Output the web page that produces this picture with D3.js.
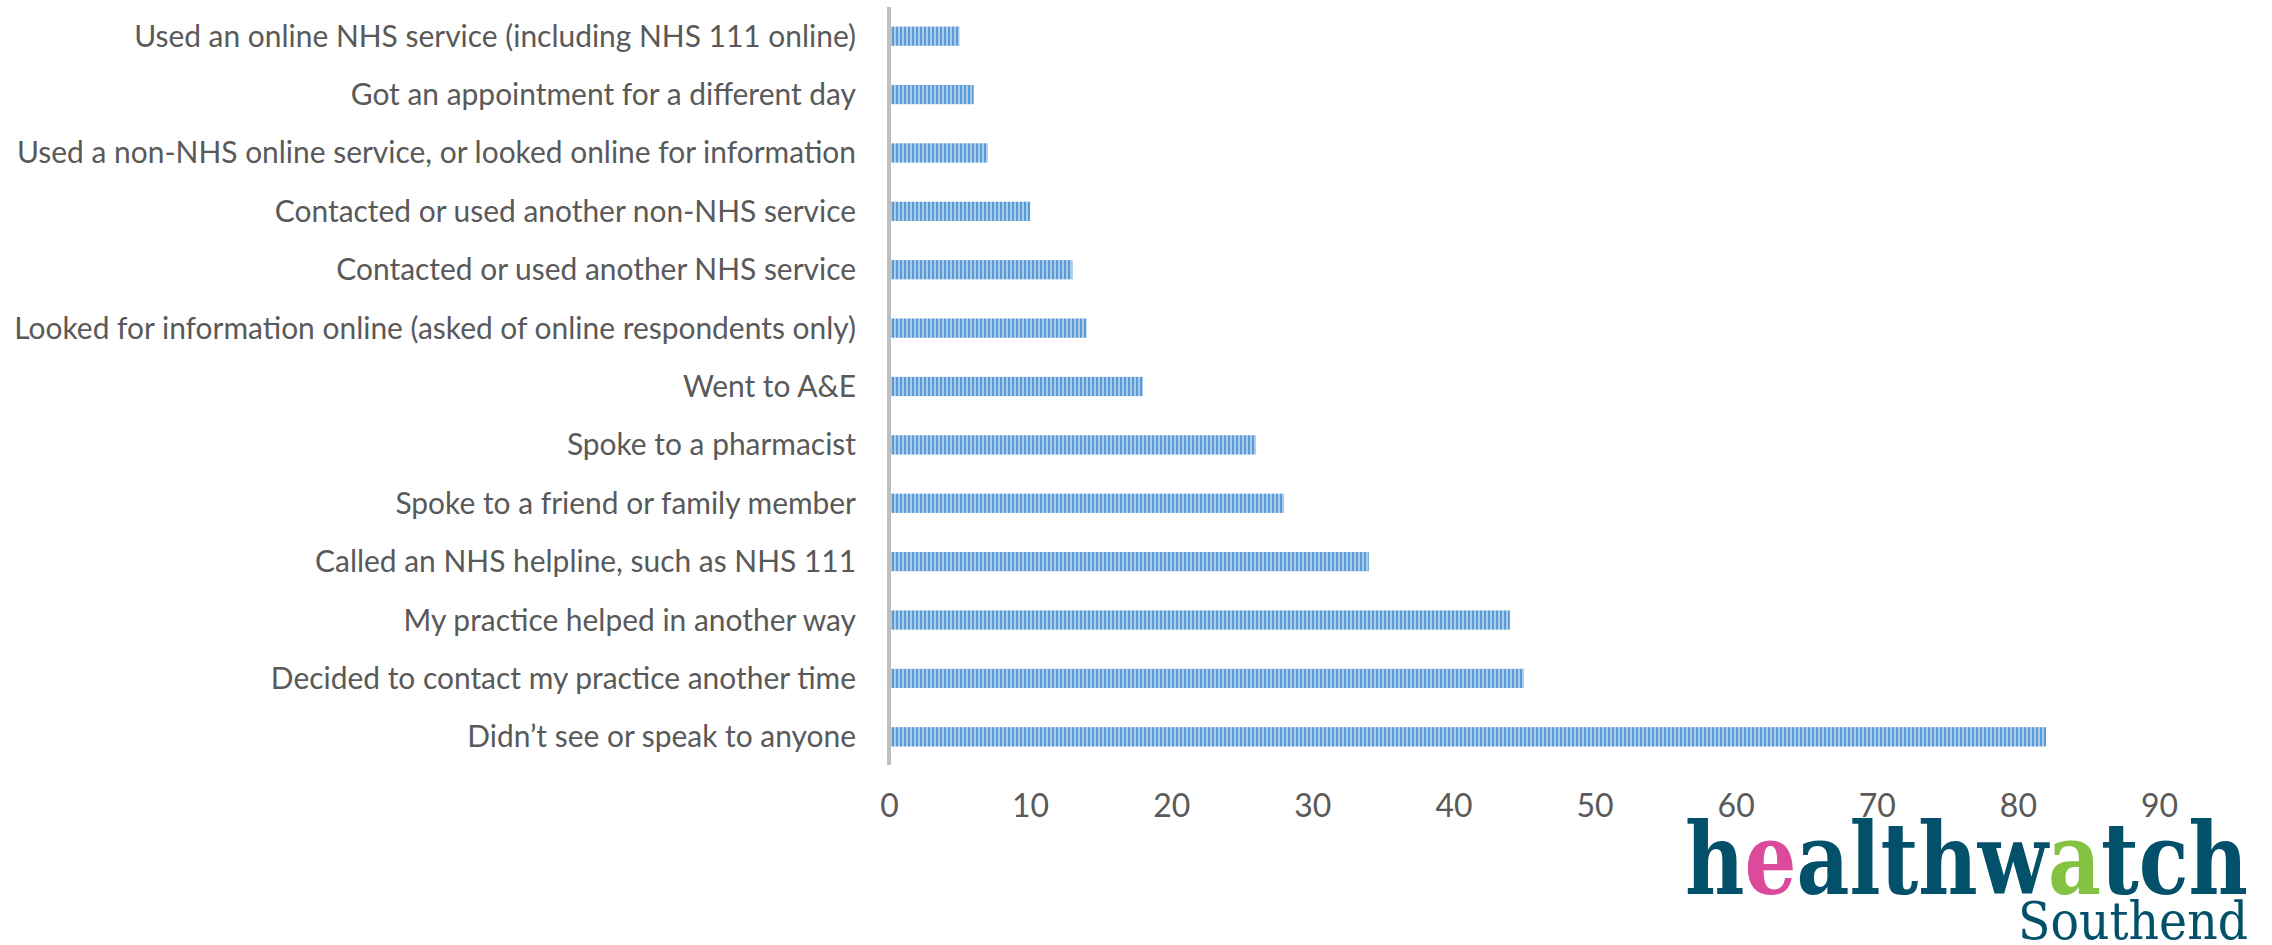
<!DOCTYPE html>
<html>
<head>
<meta charset="utf-8">
<script src="https://cdn.jsdelivr.net/npm/d3@7/dist/d3.min.js"></script>
<style>
  html, body { margin: 0; padding: 0; background: #ffffff; }
  svg { display: block; }
</style>
</head>
<body>
<svg id="chart" width="2272" height="945"></svg>
<script>
// Responses, top to bottom
const categories = [
  "Used an online NHS service (including NHS 111 online)",
  "Got an appointment for a different day",
  "Used a non-NHS online service, or looked online for information",
  "Contacted or used another non-NHS service",
  "Contacted or used another NHS service",
  "Looked for information online (asked of online respondents only)",
  "Went to A&E",
  "Spoke to a pharmacist",
  "Spoke to a friend or family member",
  "Called an NHS helpline, such as NHS 111",
  "My practice helped in another way",
  "Decided to contact my practice another time",
  "Didn\u2019t see or speak to anyone"
];
const counts = [5, 6, 7, 10, 13, 14, 18, 26, 28, 34, 44, 45, 82];
const xTicks = [0, 10, 20, 30, 40, 50, 60, 70, 80, 90];

const svg = d3.select("#chart");
const labelFont = "Lato, 'Open Sans', sans-serif";
const textColor = "#595959";

// Striped bar fill
const defs = svg.append("defs");
const pat = defs.append("pattern")
  .attr("id", "stripes")
  .attr("patternUnits", "userSpaceOnUse")
  .attr("width", 4).attr("height", 8);
pat.append("rect").attr("width", 4).attr("height", 8).attr("fill", "#5B9BD5");
pat.append("rect").attr("x", 2).attr("width", 2).attr("height", 8).attr("fill", "#A9CCEC");

const x = d3.scaleLinear().domain([0, 90]).range([889, 2159]);
const y = d3.scaleBand().domain(categories).range([7, 766]).paddingInner(0.67).paddingOuter(0.335);

// Bars
svg.append("g").selectAll("rect")
  .data(categories)
  .join("rect")
  .attr("x", x(0) + 2)
  .attr("y", d => y(d))
  .attr("width", (d, i) => x(counts[i]) - x(0) - 2)
  .attr("height", y.bandwidth())
  .attr("fill", "url(#stripes)");

// Category axis line
svg.append("rect")
  .attr("x", x(0) - 2).attr("y", 7)
  .attr("width", 4).attr("height", 758)
  .attr("fill", "#BFBFBF");

// Category labels
const labels = svg.append("g").selectAll("text")
  .data(categories)
  .join("text")
  .attr("x", 856)
  .attr("y", d => y(d) + y.bandwidth() / 2)
  .attr("dy", "0.35em")
  .attr("text-anchor", "end")
  .attr("font-family", labelFont)
  .attr("font-size", 30)
  .attr("fill", textColor)
  .text(d => d);

// Fit the longest label into the space left of the axis
let maxW = 0;
labels.each(function () { maxW = Math.max(maxW, this.getComputedTextLength()); });
const fs = 30 * 842 / maxW;
labels.attr("font-size", fs);

// Value axis
const xAxis = d3.axisBottom(x).tickValues(xTicks).tickSize(0).tickPadding(0);
const gx = svg.append("g").attr("transform", "translate(0,806)").call(xAxis);
gx.select(".domain").remove();
gx.selectAll("text")
  .attr("dy", "0.35em")
  .attr("font-family", labelFont)
  .attr("font-size", 32)
  .attr("fill", textColor);

// Healthwatch Southend wordmark
const logo = svg.append("g");
const hw = logo.append("text")
  .attr("x", 1685).attr("y", 894)
  .attr("font-family", "'DejaVu Serif', serif")
  .attr("font-weight", "bold")
  .attr("font-size", 100)
  .attr("fill", "#03506B")
  .attr("textLength", 563)
  .attr("lengthAdjust", "spacingAndGlyphs");
hw.append("tspan").text("h");
hw.append("tspan").attr("fill", "#DC4A9B").text("e");
hw.append("tspan").text("althw");
hw.append("tspan").attr("fill", "#84C341").text("a");
hw.append("tspan").text("tch");

logo.append("text")
  .attr("x", 2018).attr("y", 939)
  .attr("font-family", "'DejaVu Serif', serif")
  .attr("font-size", 52)
  .attr("fill", "#03506B")
  .attr("textLength", 230)
  .attr("lengthAdjust", "spacingAndGlyphs")
  .text("Southend");
</script>
</body>
</html>
